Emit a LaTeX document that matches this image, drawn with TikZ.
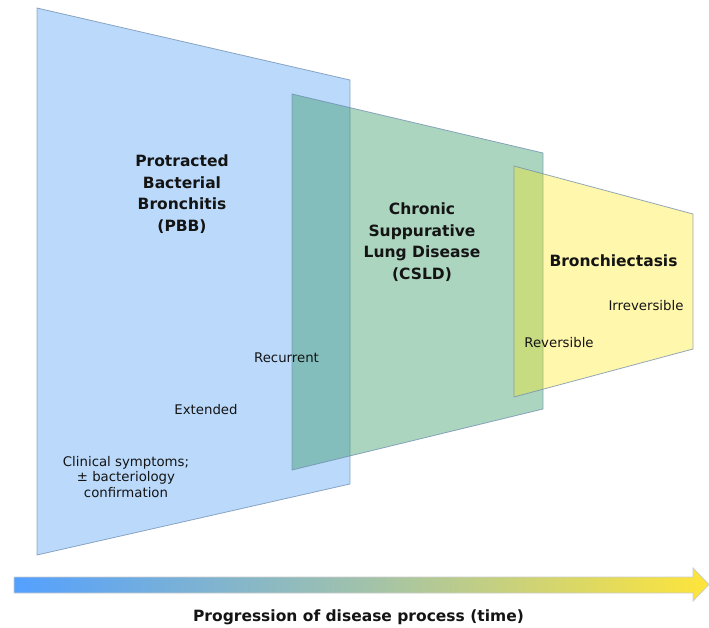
\documentclass[tikz,border=0pt]{standalone}
\usepackage{fontspec}
\setmainfont{DejaVu Sans}
\definecolor{pbbfill}{RGB}{187,218,251}
\definecolor{csldfill}{RGB}{47,150,97}
\definecolor{bronfill}{RGB}{255,230,0}
\definecolor{edgec}{RGB}{110,140,175}
\definecolor{arrowl}{RGB}{84,160,255}
\definecolor{arrowr}{RGB}{255,229,58}
\definecolor{txt}{RGB}{20,20,20}
\begin{document}
\begin{tikzpicture}[x=1pt,y=-1pt,
  panel/.style={draw=edgec,draw opacity=0.75,line width=0.8pt},
  title/.style={font=\fontsize{15.5}{21.5}\selectfont\bfseries,align=center,text=txt,inner sep=0pt},
  note/.style={font=\fontsize{13.3}{15.5}\selectfont,align=center,text=txt,inner sep=0pt,anchor=base}]
\useasboundingbox (0,0) rectangle (709,628);
% PBB panel
\fill[pbbfill] (37,8) -- (350,80) -- (350,484) -- (37,555) -- cycle;
\draw[panel] (37,8) -- (350,80) -- (350,484) -- (37,555) -- cycle;
% CSLD panel
\fill[csldfill,fill opacity=0.4] (292,94) -- (543,153) -- (543,409) -- (292,470) -- cycle;
\draw[panel] (292,94) -- (543,153) -- (543,409) -- (292,470) -- cycle;
% Bronchiectasis panel
\fill[bronfill,fill opacity=0.33] (514,166) -- (693,214) -- (693,349) -- (514,397) -- cycle;
\draw[panel] (514,166) -- (693,214) -- (693,349) -- (514,397) -- cycle;
% titles
\node[title] (pbb) at (182,194) {Protracted\\Bacterial\\Bronchitis\\(PBB)};
\node[title] (csld) at (422,242) {Chronic\\Suppurative\\Lung Disease\\(CSLD)};
\node[title,anchor=base] (bron) at (613.5,266) {Bronchiectasis};
% notes
\node[note] (irrev) at (646,310) {Irreversible};
\node[note] (rev) at (559,347) {Reversible};
\node[note] (recur) at (286.5,362) {Recurrent};
\node[note] (ext) at (206,414) {Extended};
\node[note] (clin) at (126,497) {Clinical symptoms;\\± bacteriology\\confirmation};
% time arrow
\shade[left color=arrowl,right color=arrowr,middle color={rgb,255:red,160;green,194;blue,172}]
  (14,577) -- (693,577) -- (693,568) -- (709,584.5) -- (693,601) -- (693,593) -- (14,593) -- cycle;
\draw[draw=black!20,line width=0.8pt]
  (14,577) -- (693,577) -- (693,568) -- (709,584.5) -- (693,601) -- (693,593) -- (14,593) -- cycle;
\node[title,anchor=base] (time) at (358.5,621) {Progression of disease process (time)};
\end{tikzpicture}
\end{document}
